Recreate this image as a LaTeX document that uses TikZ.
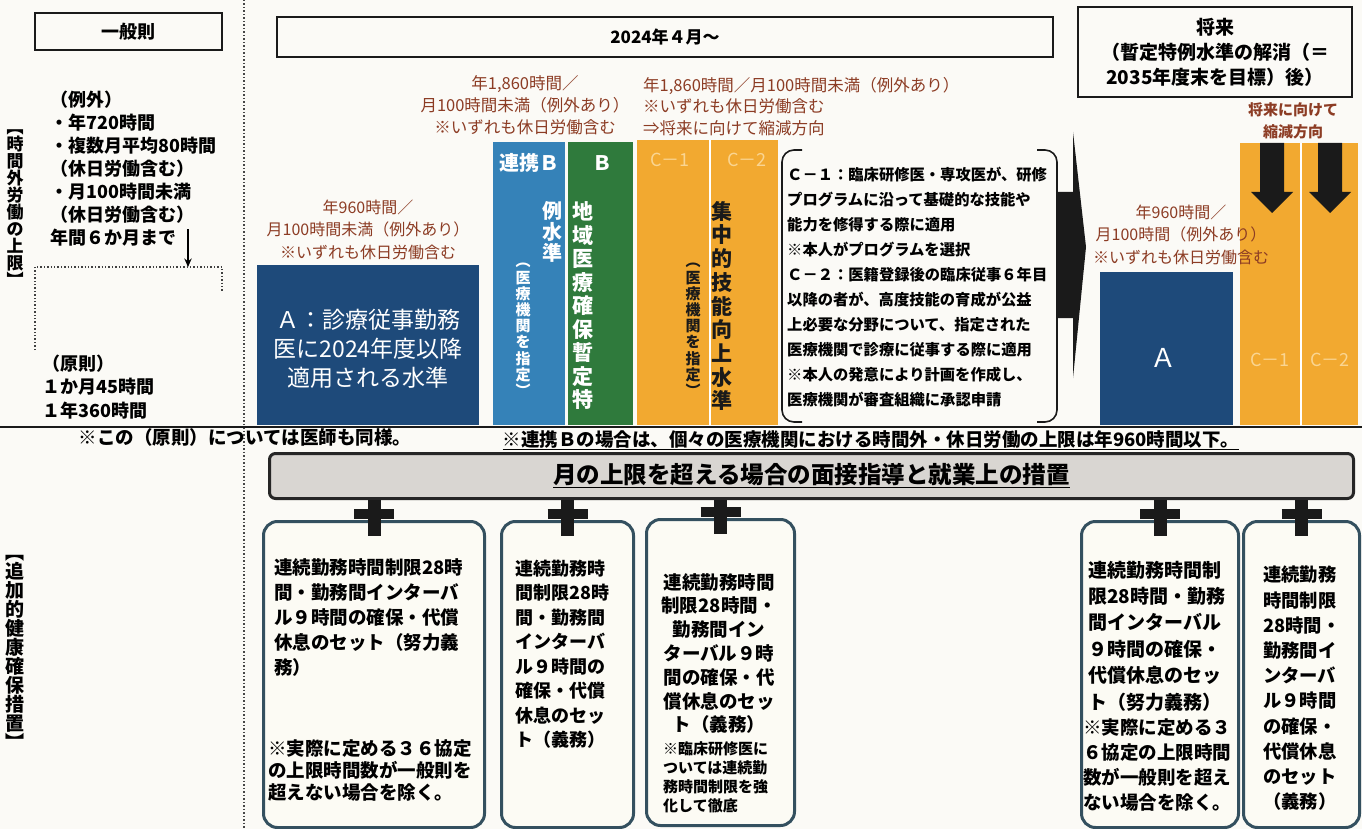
\documentclass[tikz,border=0pt]{standalone}
\usepackage{fontspec}
\setmainfont{Noto Sans CJK JP}
\usetikzlibrary{arrows.meta}

\definecolor{blueA}{HTML}{1E4A7A}
\definecolor{blueB}{HTML}{3582B8}
\definecolor{greenB}{HTML}{2F7A3C}
\definecolor{orangeC}{HTML}{F2A930}
\definecolor{paleC}{HTML}{FAD592}
\definecolor{brn}{HTML}{8C3C24}
\definecolor{frame}{HTML}{34505F}
\definecolor{paper}{HTML}{FCFBF4}
\definecolor{banfill}{HTML}{D9D6D2}
\definecolor{bg}{HTML}{FBFAF6}
\definecolor{ink}{HTML}{1A1A1A}

\newcommand{\fz}[2]{\fontsize{#1}{#2}\selectfont}

\begin{document}
\begin{tikzpicture}[x=1pt,y=-1pt,
  >={Stealth[length=3mm,width=2.6mm]},
  hdr/.style={draw=ink, line width=2.5pt, inner sep=0pt, font=\fz{18}{24}\bfseries, align=center},
  lvl/.style={anchor=north west, inner sep=0pt, outer sep=0pt},
  vtx/.style={align=center, inner sep=0pt},
  hourcap/.style={text=brn, align=center, inner sep=0pt},
  meas/.style={anchor=north west, draw=frame, line width=3pt, rounded corners=14pt, fill=paper, minimum width=#1, minimum height=306pt, inner sep=0pt},
  body/.style={align=left, anchor=west, inner sep=0pt, font=\fz{18.5}{25}\bfseries},
]
\useasboundingbox (0,0) rectangle (1362,829);
\fill[bg] (0,0) rectangle (1362,829);

% period headers
\node[hdr, minimum width=187pt, minimum height=37pt] (ippan) at (128.5,31.5) {一般則};
\node[hdr, minimum width=776pt, minimum height=40pt, font=\fz{17}{22}\bfseries] (y2024) at (665,37) {2024年４月～};
\node[hdr, minimum width=274pt, minimum height=90pt, font=\fz{19}{25}\bfseries] (future) at (1215,52) {将来\\（暫定特例水準の解消（＝\\2035年度末を目標）後）};

% frame lines
\draw[dotted, line width=1.5pt, gray!55!black] (244,0) -- (244,829);
\draw[ink, line width=2pt] (0,427) -- (1362,427);

% row labels
\node[vtx, font=\fz{17}{17}\bfseries] (lab1) at (15,208) {︻\\時\\間\\外\\労\\働\\の\\上\\限\\︼};
\node[vtx, font=\fz{19}{19}\bfseries] (lab2) at (15,652) {︻\\追\\加\\的\\健\\康\\確\\保\\措\\置\\︼};

% general rule
\node[body, font=\fz{18}{23}\bfseries] (exc) at (50,169) {（例外）\\・年720時間\\・複数月平均80時間\\（休日労働含む）\\・月100時間未満\\（休日労働含む）\\年間６か月まで};
\coordinate (six) at (188,229);
\coordinate (dotbox) at (188,267);
\draw[->, line width=1.5pt] (six) -- (dotbox);
\draw[dotted, line width=1.4pt, gray!50!black] (35,350) -- (35,267) -- (222,267) -- (222,292);
\node[body, font=\fz{18}{23.5}\bfseries] (gen) at (42,387) {（原則）\\１か月45時間\\１年360時間};

% levels from 2024
\node[lvl, fill=blueA, minimum width=222pt, minimum height=160pt] (A) at (257,265) {};
\node[lvl, fill=blueB, minimum width=72pt, minimum height=283pt] (LB) at (493,142) {};
\node[lvl, fill=greenB, minimum width=65pt, minimum height=283pt] (B) at (568,142) {};
\node[lvl, fill=orangeC, minimum width=141pt, minimum height=285pt] (C) at (637,140) {};
\draw[white, line width=2.5pt] ([xshift=2.5pt]C.north) -- ([xshift=2.5pt]C.south);
\node[lvl, fill=blueA, minimum width=133pt, minimum height=153pt] (FA) at (1100,272) {};
\node[lvl, fill=orangeC, minimum width=118pt, minimum height=282pt] (FC) at (1240,143) {};
\draw[white, line width=2.5pt] ([xshift=2pt]FC.north) -- ([xshift=2pt]FC.south);

\node[inner sep=0pt, text=white, align=center, font=\fz{23}{29}] (Atxt) at (368,349) {Ａ：診療従事勤務\\医に2024年度以降\\適用される水準};
\node[inner sep=0pt, text=white, font=\fz{20}{24}\bfseries] (LBlab) at (529,163) {連携Ｂ};
\node[inner sep=0pt, text=white, font=\fz{20}{24}\bfseries] (Blab) at (602,163) {Ｂ};
\node[vtx, text=white, font=\fz{21}{23.5}\bfseries] (Bv) at (583,306) {地\\域\\医\\療\\確\\保\\暫\\定\\特};
\node[vtx, text=white, font=\fz{20}{21}\bfseries] (Bv2) at (552,232) {例\\水\\準};
\node[vtx, text=white, font=\fz{15}{16.2}\bfseries] (LBv) at (523,330) {︵\\医\\療\\機\\関\\を\\指\\定\\︶};
\node[vtx, text=ink, font=\fz{21}{23.7}\bfseries] (Cv) at (722,306) {集\\中\\的\\技\\能\\向\\上\\水\\準};
\node[vtx, text=ink, font=\fz{15}{16.2}\bfseries] (Cv2) at (693,330) {︵\\医\\療\\機\\関\\を\\指\\定\\︶};
\node[inner sep=0pt, text=paleC, font=\fz{18}{20}] (C1) at (670,160) {C－1};
\node[inner sep=0pt, text=paleC, font=\fz{18}{20}] (C2) at (747,160) {C－2};
\node[inner sep=0pt, text=white, font=\fz{26}{28}] (FAlab) at (1163,358) {Ａ};
\node[inner sep=0pt, text=paleC, font=\fz{18}{20}] (FC1) at (1270,360) {C－1};
\node[inner sep=0pt, text=paleC, font=\fz{18}{20}] (FC2) at (1330,360) {C－2};

% hour caps
\node[hourcap, font=\fz{16}{22.5}] (capA) at (368,229.5) {年960時間／\\月100時間未満（例外あり）\\※いずれも休日労働含む};
\node[hourcap, font=\fz{16.5}{22}] (capB) at (525,105) {年1,860時間／\\月100時間未満（例外あり）\\※いずれも休日労働含む};
\node[hourcap, align=left, anchor=west, font=\fz{16.5}{21.5}] (capC) at (643,106.5) {年1,860時間／月100時間未満（例外あり）\\※いずれも休日労働含む\\⇒将来に向けて縮減方向};
\node[hourcap, font=\fz{16}{22.5}] (capF) at (1181,234.5) {年960時間／\\月100時間（例外あり）\\※いずれも休日労働含む};
\node[hourcap, font=\fz{15}{22}\bfseries] (shrink) at (1293,121) {将来に向けて\\縮減方向};

% C-1 / C-2 explanation
\node[body, font=\fz{15.3}{25}\bfseries] (cdesc) at (787,287.5) {Ｃ－１：臨床研修医・専攻医が、研修\\プログラムに沿って基礎的な技能や\\能力を修得する際に適用\\※本人がプログラムを選択\\Ｃ－２：医籍登録後の臨床従事６年目\\以降の者が、高度技能の育成が公益\\上必要な分野について、指定された\\医療機関で診療に従事する際に適用\\※本人の発意により計画を作成し、\\医療機関が審査組織に承認申請};
\draw[ink, line width=1.6pt, rounded corners=12pt] (802,150) -- (782,150) -- (782,422) -- (802,422);
\draw[ink, line width=1.6pt, rounded corners=12pt] (1037,150) -- (1057,150) -- (1057,422) -- (1037,422);

% transition arrow and reduction arrows
\fill[ink] (1058,192) -- (1073,192) -- (1073,132) -- (1086,247) -- (1073,378) -- (1073,318) -- (1058,318) -- cycle;
\foreach \ax in {1272,1330}
  \fill[ink] (\ax-12,143) -- (\ax+12,143) -- (\ax+12,192) -- (\ax+21,192) -- (\ax,213) -- (\ax-21,192) -- (\ax-12,192) -- cycle;

% notes
\node[inner sep=0pt, font=\fz{18.5}{22}\bfseries] (note1) at (245,437) {※この（原則）については医師も同様。};
\node[inner sep=0pt, font=\fz{18.5}{22}\bfseries] (note2) at (871,440) {\underline{※連携Ｂの場合は、個々の医療機関における時間外・休日労働の上限は年960時間以下。}};

% health measures
\node[anchor=north west, draw=black!85, line width=3pt, rounded corners=6pt, fill=banfill, minimum width=1084pt, minimum height=45pt, inner sep=0pt, font=\fz{23.5}{26}\bfseries] (banner) at (268,452) {\underline{月の上限を超える場合の面接指導と就業上の措置}};

\node[meas=221pt] (m1) at (262,520) {};
\node[meas=132pt] (m2) at (500,520) {};
\node[meas=148pt] (m3) at (645,518) {};
\node[meas=157pt] (m4) at (1080,520) {};
\node[meas=116pt] (m5) at (1242,520) {};

\foreach \m in {m1,m2,m3,m4,m5} {
  \draw[ink, line width=13pt] (banner.south -| \m.north) -- ([yshift=-16pt]\m.north);
  \draw[ink, line width=10pt] ([xshift=-20pt,yshift=6pt]\m.north) -- ([xshift=20pt,yshift=6pt]\m.north);
}

\node[body] (t1) at (274,618) {連続勤務時間制限28時\\間・勤務間インターバ\\ル９時間の確保・代償\\休息のセット（努力義\\務）};
\node[body, font=\fz{18.5}{22}\bfseries] (t1n) at (268,770) {※実際に定める３６協定\\の上限時間数が一般則を\\超えない場合を除く。};
\node[body, font=\fz{18}{24.5}\bfseries] (t2) at (515,654) {連続勤務時\\間制限28時\\間・勤務間\\インターバ\\ル９時間の\\確保・代償\\休息のセッ\\ト（義務）};
\node[body, align=center, anchor=center, font=\fz{18.5}{23.8}\bfseries] (t3) at (719,653.5) {連続勤務時間\\制限28時間・\\勤務間イン\\ターバル９時\\間の確保・代\\償休息のセッ\\ト（義務）};
\node[body, font=\fz{15}{19}\bfseries] (t3n) at (663,777) {※臨床研修医に\\ついては連続勤\\務時間制限を強\\化して徹底};
\node[body, font=\fz{19}{26.4}\bfseries] (t4) at (1088,636) {連続勤務時間制\\限28時間・勤務\\間インターバル\\９時間の確保・\\代償休息のセッ\\ト（努力義務）};
\node[body, font=\fz{18.5}{24.7}\bfseries] (t4n) at (1083,765) {※実際に定める３\\６協定の上限時間\\数が一般則を超え\\ない場合を除く。};
\node[body, font=\fz{18.3}{25.2}\bfseries] (t5) at (1263,688.5) {連続勤務\\時間制限\\28時間・\\勤務間イ\\ンターバ\\ル９時間\\の確保・\\代償休息\\のセット\\（義務）};
\end{tikzpicture}
\end{document}
